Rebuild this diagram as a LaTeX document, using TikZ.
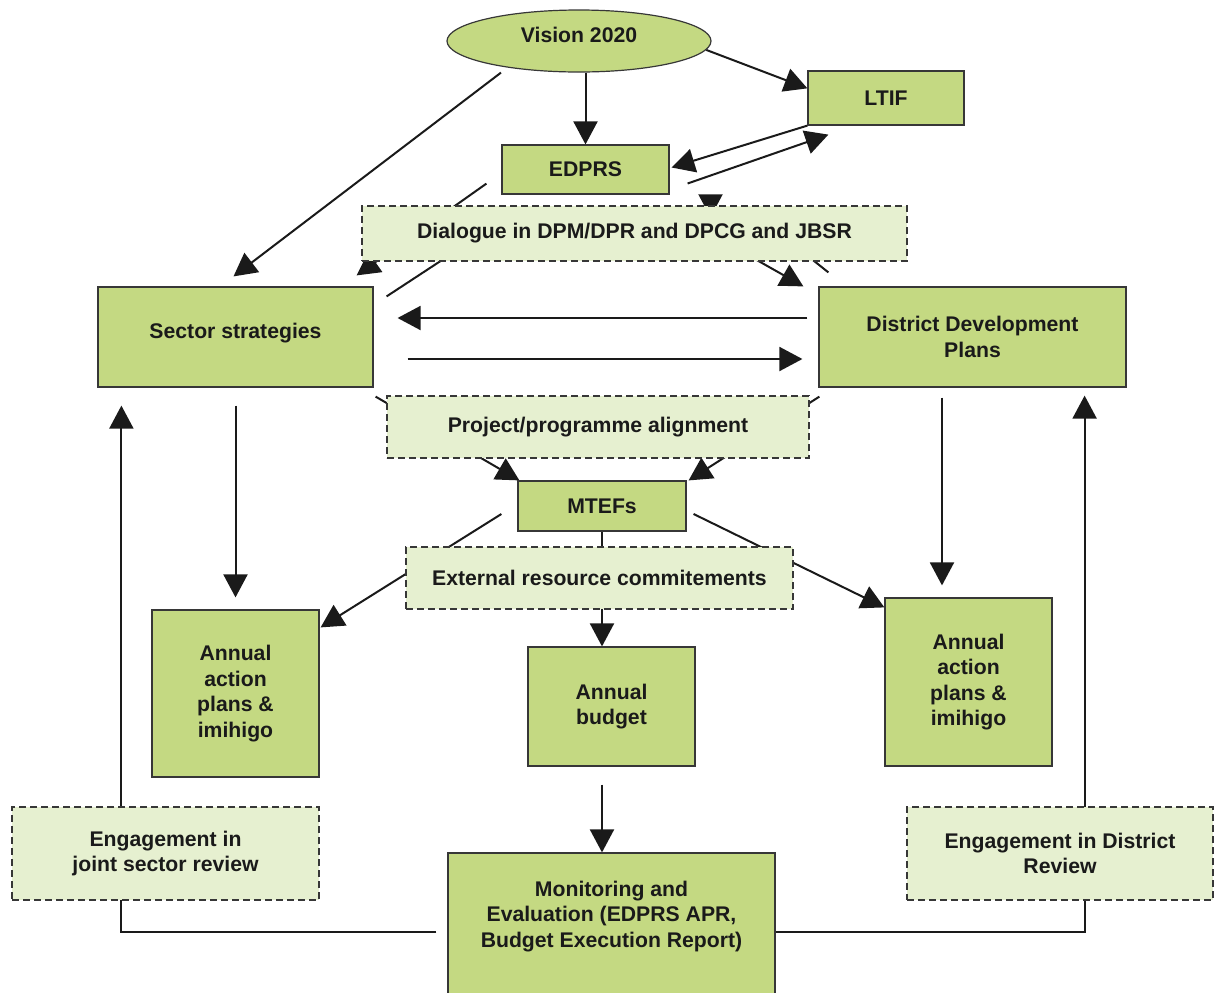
\documentclass[tikz,border=0pt]{standalone}
\usepackage{fontspec}
\setmainfont{Liberation Sans}
\usetikzlibrary{arrows.meta, shapes.geometric, calc, backgrounds}

\definecolor{boxgreen}{RGB}{196,217,130}
\definecolor{palegreen}{RGB}{230,240,208}
\definecolor{edgegray}{RGB}{55,55,55}
\definecolor{ink}{RGB}{26,26,26}

\begin{document}
\begin{tikzpicture}[x=0.5pt, y=-0.5pt,
  font=\fontsize{10.6}{12.75}\selectfont\bfseries, text=ink,
  box/.style={draw=edgegray, line width=0.6pt, fill=boxgreen, align=center, inner sep=0pt},
  dbox/.style={draw=edgegray, line width=0.7pt, dash pattern=on 3.5pt off 2pt,
               fill=palegreen, align=center, inner sep=0pt},
  txt/.style={align=center, inner sep=0pt},
  arr/.style={draw=ink, line width=1pt, -{Triangle[length=11.5pt,width=12pt]}},
]
\useasboundingbox (0,0) rectangle (1217,992);
\clip (0,0) rectangle (1217,992);

% ---- top level ----
\node[box, ellipse, minimum width=132pt, minimum height=31pt] (vision) at (579,41) {};
\node[txt] (visiontext) at (579,35) {Vision 2020};
\node[box, minimum width=78pt, minimum height=27pt] (ltif) at (886,98) {LTIF};
\node[box, minimum width=83.5pt, minimum height=24.5pt] (edprs) at (585.5,169.5) {EDPRS};
\node[dbox, minimum width=272.5pt, minimum height=27.5pt] (dialogue) at (634.5,233.5)
  {Dialogue in DPM/DPR and DPCG and JBSR};

% ---- strategies and plans ----
\node[box, minimum width=137.5pt, minimum height=50pt] (sector) at (235.5,337) {};
\node[txt] (sectortext) at (235.5,333) {Sector strategies};
\node[box, minimum width=153.5pt, minimum height=50pt] (ddp) at (972.5,337)
  {District Development\\Plans};
\node[dbox, minimum width=211pt, minimum height=31pt] (project) at (598,427)
  {Project/programme alignment};
\node[box, minimum width=84pt, minimum height=25pt] (mtefs) at (602,506) {MTEFs};
\node[dbox, minimum width=193.5pt, minimum height=31pt] (external) at (599.5,578)
  {External resource commitements};

% ---- annual level ----
\node[box, minimum width=83.5pt, minimum height=83.5pt] (aapl) at (235.5,693.5)
  {Annual\\action\\plans \&\\imihigo};
\node[box, minimum width=83.5pt, minimum height=59.5pt] (budget) at (611.5,706.5)
  {Annual\\budget};
\node[box, minimum width=83.5pt, minimum height=84pt] (aapr) at (968.5,682)
  {Annual\\action\\plans \&\\imihigo};

% ---- review level ----
\node[dbox, minimum width=153.5pt, minimum height=46.5pt] (engl) at (165.5,853.5)
  {Engagement in\\joint sector review};
\node[dbox, minimum width=153pt, minimum height=46.5pt] (engr) at (1060,853.5)
  {Engagement in District\\Review};
\node[box, minimum width=163.5pt, minimum height=78.5pt] (me) at (611.5,931.5) {};
\node[txt] (metext) at (611.5,916.5)
  {Monitoring and\\Evaluation (EDPRS APR,\\Budget Execution Report)};

% ---- connectors, kept behind the boxes ----
\begin{pgfonlayer}{background}
  \draw[arr] (vision.south -| edprs.north) -- (edprs.north);
  \draw[arr] (vision.-4) -- (ltif.173);
  \draw[arr] (ltif.south west) -- ($(edprs.east)+(2,-2)$);
  \draw[arr] ($(edprs.east)+(18,14)$) -- ($(ltif.south west)+(21,9)$);
  \draw[arr] ($(vision.south)+(-78,0)$) -- ($(sector.north)+(-2,-10)$);
  \draw[arr] ($(edprs.south west)+(-15,-11)$) -- ($(sector.north east)+(-17,-11)$);
  \draw[arr] ($(sector.north east)+(13,10)$) -- ($(dialogue.west)+(138,-11)$);
  \draw[arr] ($(dialogue.center)+(86,6)$) -- ($(ddp.north west)+(-15,0)$);
  \draw[arr] ($(dialogue.north)+(76,-10)$) -- ($(dialogue.north)+(76,12)$);
  \draw[arr] ($(ddp.north west)+(10,-14)$) -- ($(ddp.north west)+(-49,-61)$);
  \draw[arr] ($(ddp.west)+(-11,-19)$) -- ($(sector.east)+(24,-19)$);
  \draw[arr] ($(sector.east)+(34,22)$) -- ($(ddp.west)+(-16,22)$);
  \draw[arr] ($(sector.south east)+(2,9)$) -- ($(mtefs.north west)+(2,0)$);
  \draw[arr] ($(ddp.south west)+(1,9)$) -- ($(mtefs.north east)+(2,0)$);
  \draw[arr] ($(sector.south)+(0,18)$) -- ($(aapl.north)+(0,-12)$);
  \draw[arr] ($(ddp.south)+(-30.5,10)$) -- ($(aapr.north)+(-26.5,-12)$);
  \draw[arr] ($(mtefs.west)+(-16,8)$) -- ($(aapl.north east)+(1,18)$);
  \draw[arr] ($(mtefs.east)+(7,8)$) -- ($(aapr.north west)+(0,10)$);
  \draw[arr] (mtefs.south) -- (mtefs.south |- budget.north);
  \draw[arr] ($(budget.south)+(-9.5,18)$) -- ($(me.north)+(-9.5,0)$);
  \draw[arr] ($(me.west)+(-11,0)$) -| ($(sector.south west)+(24,18)$);
  \draw[arr] (me.east) -| ($(ddp.south east)+(-42,8)$);
\end{pgfonlayer}
\end{tikzpicture}
\end{document}
